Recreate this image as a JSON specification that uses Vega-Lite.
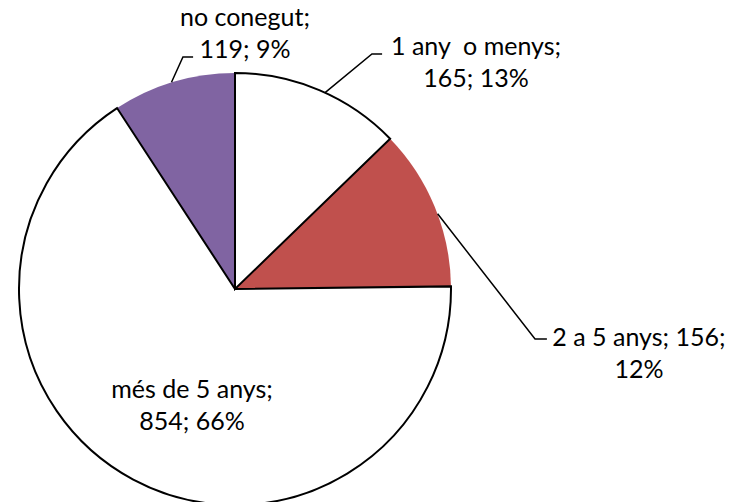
{
  "$schema": "https://vega.github.io/schema/vega-lite/v6.json",
  "width": 731,
  "height": 502,
  "autosize": {"type": "none"},
  "padding": 0,
  "background": "white",
  "view": {"stroke": null},
  "config": {"font": "Lato"},
  "datasets": {
    "slices": [
      {"ord": 1, "categoria": "1 any o menys", "n": 165, "pct": 13},
      {"ord": 2, "categoria": "2 a 5 anys", "n": 156, "pct": 12},
      {"ord": 3, "categoria": "més de 5 anys", "n": 854, "pct": 66},
      {"ord": 4, "categoria": "no conegut", "n": 119, "pct": 9}
    ],
    "leaders": [
      {"id": "no conegut", "seq": 1, "x": -0.294, "y": 0.957},
      {"id": "no conegut", "seq": 2, "x": -0.241, "y": 1.074},
      {"id": "no conegut", "seq": 3, "x": -0.194, "y": 1.074},
      {"id": "1 any o menys", "seq": 1, "x": 0.417, "y": 0.909},
      {"id": "1 any o menys", "seq": 2, "x": 0.634, "y": 1.088},
      {"id": "1 any o menys", "seq": 3, "x": 0.681, "y": 1.088},
      {"id": "2 a 5 anys", "seq": 1, "x": 0.938, "y": 0.348},
      {"id": "2 a 5 anys", "seq": 2, "x": 1.389, "y": -0.231},
      {"id": "2 a 5 anys", "seq": 3, "x": 1.444, "y": -0.231}
    ],
    "labels": [
      {"etiqueta": "no conegut;\n119; 9%", "x": 0.046, "y": 1.218},
      {"etiqueta": "1 any \u00a0o menys;\n165; 13%", "x": 1.116, "y": 1.083},
      {"etiqueta": "2 a 5 anys; 156;\n12%", "x": 1.87, "y": -0.266},
      {"etiqueta": "més de 5 anys;\n854; 66%", "x": -0.199, "y": -0.505}
    ]
  },
  "layer": [
    {
      "data": {"name": "slices"},
      "mark": {"type": "arc", "outerRadius": 216, "strokeWidth": 0},
      "encoding": {
        "x": {"datum": 0, "type": "quantitative", "scale": {"domain": [-1.08796, 2.2963], "nice": false, "zero": false}, "axis": null},
        "y": {"datum": 0, "type": "quantitative", "scale": {"domain": [-0.98611, 1.33796], "nice": false, "zero": false}, "axis": null},
        "theta": {"field": "n", "type": "quantitative", "stack": true},
        "order": {"field": "ord", "type": "quantitative"},
        "color": {
          "field": "categoria",
          "type": "nominal",
          "scale": {"domain": ["1 any o menys", "2 a 5 anys", "més de 5 anys", "no conegut"], "range": ["#ffffff", "#C0504D", "#ffffff", "#8064A2"]},
          "legend": null
        }
      }
    },
    {
      "data": {"name": "slices"},
      "mark": {"type": "arc", "outerRadius": 216, "fillOpacity": 0, "strokeWidth": 2, "strokeJoin": "miter"},
      "encoding": {
        "x": {"datum": 0, "type": "quantitative"},
        "y": {"datum": 0, "type": "quantitative"},
        "theta": {"field": "n", "type": "quantitative", "stack": true},
        "order": {"field": "ord", "type": "quantitative"},
        "stroke": {
          "field": "categoria",
          "type": "nominal",
          "scale": {"domain": ["1 any o menys", "2 a 5 anys", "més de 5 anys", "no conegut"], "range": ["#000000", "transparent", "#000000", "transparent"]},
          "legend": null
        }
      }
    },
    {
      "data": {"name": "leaders"},
      "mark": {"type": "line", "color": "#000000", "strokeWidth": 1.5},
      "encoding": {
        "x": {"field": "x", "type": "quantitative"},
        "y": {"field": "y", "type": "quantitative"},
        "detail": {"field": "id"},
        "order": {"field": "seq", "type": "quantitative"}
      }
    },
    {
      "data": {"name": "labels"},
      "mark": {"type": "text", "align": "center", "baseline": "alphabetic", "fontSize": 25, "lineHeight": 32, "lineBreak": "\n", "font": "Lato", "color": "#000000"},
      "encoding": {
        "x": {"field": "x", "type": "quantitative"},
        "y": {"field": "y", "type": "quantitative"},
        "text": {"field": "etiqueta"}
      }
    }
  ]
}
